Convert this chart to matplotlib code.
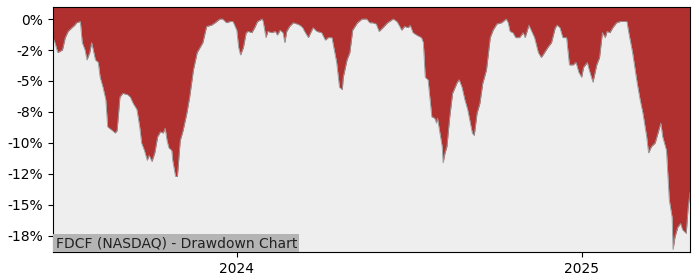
import pandas as pd
import matplotlib.pyplot as plt
import matplotlib.ticker as mticker
import matplotlib.dates as mdates

# 起始日期，以下为距起始日的天数和回撤百分比
start_date = '2023-06-20'
day_offset = [0, 2, 5, 10, 13, 16, 20, 23, 25, 29, 31, 34, 36, 39, 41, 45, 48, 50, 53, 56,
              58, 63, 66, 68, 71, 74, 79, 82, 85, 89, 92, 94, 97, 100, 102, 105, 108, 111, 114, 117,
              119, 121, 123, 126, 127, 130, 132, 135, 138, 142, 145, 149, 153, 156, 159, 163, 168, 172, 177, 180,
              184, 188, 191, 195, 197, 199, 202, 205, 207, 211, 214, 217, 222, 223, 226, 228, 232, 236, 238, 241,
              244, 246, 248, 251, 255, 259, 262, 265, 267, 271, 274, 276, 280, 285, 289, 292, 296, 297, 301, 304,
              307, 308, 312, 315, 318, 323, 328, 333, 336, 339, 343, 346, 350, 355, 361, 365, 368, 370, 373, 377,
              379, 382, 386, 391, 393, 395, 398, 402, 405, 407, 408, 413, 414, 416, 418, 421, 424, 429, 431, 434,
              437, 440, 445, 447, 450, 453, 456, 460, 464, 467, 471, 476, 481, 483, 485, 488, 491, 495, 499, 501,
              505, 508, 511, 515, 518, 520, 525, 529, 533, 535, 538, 541, 545, 548, 552, 555, 558, 561, 563, 567,
              569, 573, 577, 580, 583, 586, 588, 591, 594, 598, 602, 609, 611, 615, 620, 623, 626, 630, 632, 635,
              639, 642, 645, 647, 651, 654, 657, 658, 660, 663, 666, 668, 672, 674, 676]
drawdown = [-1.5, -1.9, -2.7, -2.5, -1.5, -1.0, -0.7, -0.5, -0.3, -0.2, -1.9, -2.5, -3.3, -2.7, -1.9, -3.3, -3.5, -4.7, -5.5, -6.5,
            -8.7, -9.0, -9.2, -9.0, -6.3, -6.0, -6.1, -6.3, -6.8, -7.3, -8.7, -10.0, -10.6, -11.4, -11.0, -11.5, -10.8, -9.5, -9.1, -9.2,
            -8.8, -9.8, -10.4, -10.6, -11.4, -12.7, -12.7, -9.8, -9.0, -7.6, -6.3, -4.1, -2.7, -2.3, -1.9, -0.6, -0.5, -0.3, 0.0, 0.0,
            -0.3, -0.2, -0.2, -0.9, -2.3, -2.9, -2.3, -1.1, -1.0, -1.1, -0.7, -0.2, 0.0, -0.2, -1.5, -1.0, -1.1, -1.0, -1.3, -0.9,
            -1.1, -1.9, -1.0, -0.6, -0.3, -0.4, -0.5, -0.7, -1.0, -1.5, -1.0, -0.7, -1.0, -1.1, -1.7, -1.5, -1.5, -1.9, -3.5, -5.5,
            -5.7, -4.7, -3.3, -2.7, -0.9, -0.3, 0.0, 0.0, -0.3, -0.3, -0.4, -1.0, -0.7, -0.3, 0.0, -0.2, -0.6, -0.9, -0.6, -0.7,
            -0.5, -1.1, -1.3, -1.5, -1.9, -4.7, -4.9, -7.9, -8.0, -8.4, -8.0, -10.3, -11.6, -10.8, -10.3, -7.9, -6.0, -5.1, -4.9, -5.5,
            -6.5, -7.3, -9.2, -9.4, -7.6, -6.8, -5.2, -4.1, -1.5, -0.9, -0.4, -0.3, 0.0, -0.3, -1.0, -1.1, -1.5, -1.5, -1.1, -1.5,
            -0.5, -1.0, -1.5, -2.7, -3.1, -2.9, -2.3, -1.9, -0.7, -0.5, -0.7, -1.5, -1.5, -3.7, -3.7, -3.5, -4.3, -4.7, -3.9, -3.5,
            -4.1, -5.1, -3.7, -3.1, -1.1, -1.5, -1.0, -1.1, -0.7, -0.3, -0.2, -0.2, -1.1, -2.7, -5.2, -6.5, -7.6, -9.5, -10.8, -10.3,
            -10.0, -9.2, -8.4, -9.5, -10.6, -14.6, -16.0, -18.6, -17.6, -16.8, -16.5, -17.0, -17.3, -15.2, -14.0]
title_text = 'FDCF (NASDAQ) - Drawdown Chart'

dates = pd.Timestamp(start_date) + pd.to_timedelta(day_offset, unit='D')
dd = pd.Series(drawdown, index=dates) / 100

fig = plt.figure(figsize=(7, 2.8), dpi=100)
ax = fig.add_axes([0.0757, 0.1, 0.91, 0.875])
ax.set_facecolor('#eeeeee')

top = 0.0097
bottom = -0.188
# 回撤区域填红色
ax.fill_between(dd.index, dd.values, top, color='#b03030', linewidth=0)
ax.plot(dd.index, dd.values, color='#999999', linewidth=0.6)

ax.set_xlim(dd.index[0], dd.index[-1])
ax.set_ylim(bottom, top)
ax.yaxis.set_major_locator(mticker.MultipleLocator(0.025))
ax.yaxis.set_major_formatter(mticker.FuncFormatter(lambda v, p: '{:.0f}%'.format(v * 100)))

ax.xaxis.set_major_locator(mdates.YearLocator())
ax.xaxis.set_major_formatter(mdates.DateFormatter('%Y'))

ax.text(0.004, 0.008, title_text, transform=ax.transAxes, fontsize=10,
        ha='left', va='bottom', color='#222222',
        bbox=dict(facecolor='#b4b4b4', edgecolor='none', pad=1.5))

fig.savefig('out.png', dpi=100)
